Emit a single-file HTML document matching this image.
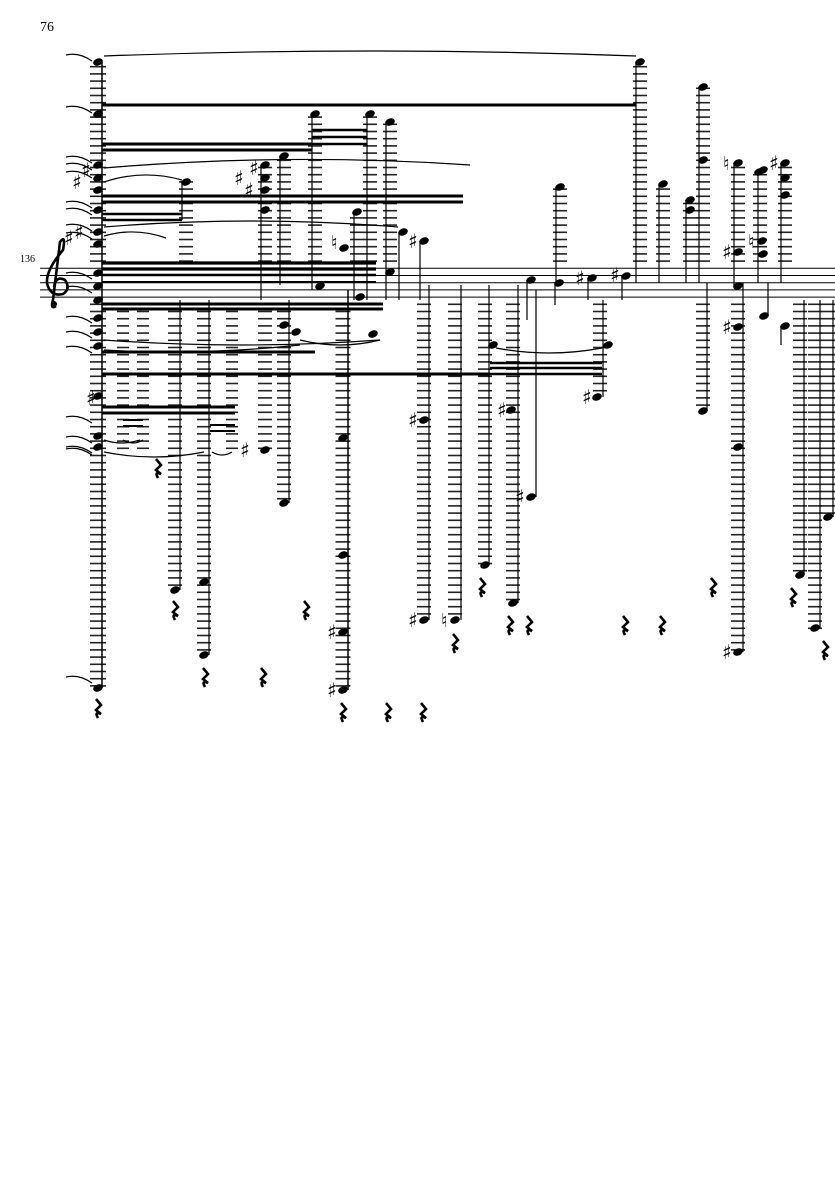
<!DOCTYPE html>
<html><head><meta charset="utf-8"><style>
html,body{margin:0;padding:0;background:#fff;width:835px;height:1181px;overflow:hidden}
svg{display:block}
</style></head><body>
<svg id="s" width="835" height="1181" viewBox="0 0 835 1181" xmlns="http://www.w3.org/2000/svg">
<text x="40" y="31" font-family="Liberation Serif, serif" font-size="14">76</text>
<text x="20" y="262" font-family="Liberation Serif, serif" font-size="10">136</text>
<g id="g" fill="none" stroke="#000"></g>
</svg>
<script>
var g=document.getElementById('g');var h='';
var T=268.3,B=297.1,S=7.2;
for(var i=0;i<5;i++){var y=T+i*S;h+='<line x1="40" y1="'+y+'" x2="835" y2="'+y+'" stroke-width="1"/>';}
function led(x,a,b,w){w=w||14;var c='#222';
 for(var y=T-S;y>=a-1;y-=S)if(y<=b+1)h+='<line x1="'+(x-w/2)+'" y1="'+y+'" x2="'+(x+w/2)+'" y2="'+y+'" stroke="'+c+'" stroke-width="1.6"/>';
 for(var y=B+S;y<=b+1;y+=S)if(y>=a-1)h+='<line x1="'+(x-w/2)+'" y1="'+y+'" x2="'+(x+w/2)+'" y2="'+y+'" stroke="'+c+'" stroke-width="1.6"/>';}
function n(x,y){h+='<ellipse cx="'+x+'" cy="'+y+'" rx="5" ry="3.5" transform="rotate(-22 '+x+' '+y+')" fill="#000" stroke="none"/>';}
function st(x,a,b,w){h+='<line x1="'+x+'" y1="'+a+'" x2="'+x+'" y2="'+b+'" stroke-width="'+(w||1.2)+'"/>';}
function bm(x1,y1,x2,y2,w){h+='<line x1="'+x1+'" y1="'+y1+'" x2="'+x2+'" y2="'+y2+'" stroke-width="'+(w||3)+'"/>';}
function sl(x1,y1,x2,y2,d){var mx=(x1+x2)/2,my=(y1+y2)/2+d;h+='<path d="M'+x1+' '+y1+' Q'+mx+' '+my+' '+x2+' '+y2+'" stroke-width="1.2"/>';}
function sh(x,y){h+='<text x="'+(x-6)+'" y="'+(y+7)+'" font-family="DejaVu Sans,sans-serif" font-size="20" fill="#000" stroke="none">♯</text>';}
function na(x,y){h+='<text x="'+(x-5)+'" y="'+(y+7)+'" font-family="DejaVu Sans,sans-serif" font-size="19" fill="#000" stroke="none">♮</text>';}
function r(x,y){h+='<path d="M'+(x-2)+' '+(y-9)+' L'+(x+3)+' '+(y-3)+' L'+(x-2)+' '+(y+2)+' L'+(x+3)+' '+(y+6)+' Q'+(x-4)+' '+(y+3)+' '+(x)+' '+(y+10)+'" stroke-width="2.6"/>';}
led(98,62,688,16);st(102,62,688,1.5);
[62,114,165,178,190,210,232,244,273,286,300,318,332,346,396,436,447,688].forEach(function(y){n(98,y)});
sh(87,170);sh(78,182);sh(70,238);sh(80,232);sh(92,398);
[58,110,160,167,175,205,212,228,236,276,290,320,335,350,420,440,450,452,680].forEach(function(y,i){sl(66,y-3,92,y+3,-6)});
[123,143,232].forEach(function(x){led(x,304,450,12)});
led(186,182,261);n(186,182);st(182,182,220);
led(175,304,590);n(175,590);st(180,300,590);
led(204,304,655);n(204,582);n(204,655);st(209,300,655);
led(265,165,261);[165,178,190,210].forEach(function(y){n(265,y)});st(261,165,300);sh(240,178);sh(250,190);sh(255,168);
led(265,304,450);n(265,450);sh(246,450);
led(284,156,261);n(284,156);st(280,156,285);
led(284,304,503);n(284,503);st(289,300,503);
led(315,114,261);n(315,114);st(312,114,290);
led(343,304,690,15);[438,555,632,690].forEach(function(y){n(343,y)});st(348,290,690,1.5);sh(333,632);sh(333,690);
led(357,212,261);n(357,212);st(354,212,300);
led(370,114,261);n(370,114);st(367,114,300);
led(390,122,261);n(390,122);st(386,122,300);
n(344,248);na(336,242);n(403,232);st(399,232,300);sh(414,241);n(424,241);st(420,241,300);
n(296,332);n(284,325);n(373,334);n(320,286);n(360,297);n(390,272);
led(424,304,620);n(424,420);n(424,620);st(429,285,620);sh(414,420);sh(414,620);
led(455,304,620);n(455,620);st(461,285,620);na(446,620);
led(485,304,565);n(485,565);st(489,285,565);
led(513,304,603);n(513,603);st(518,285,603);sh(503,410);n(511,410);
n(531,497);st(536,290,497);sh(521,497);n(531,280);st(527,280,320);
n(559,283);st(555,283,305);n(592,278);st(588,278,300);sh(581,278);n(626,276);st(622,276,300);sh(616,275);
led(560,187,261);n(560,187);st(556,187,283);
led(600,304,395);n(493,345);n(608,345);n(597,397);sh(588,397);st(603,300,397);
led(640,62,261);n(640,62);st(636,62,283);
led(663,184,261);n(663,184);st(659,184,283);
led(690,200,261);n(690,200);n(690,210);st(686,200,283);
led(703,87,261);n(703,87);n(703,160);st(699,87,283);
led(703,304,411);n(703,411);st(707,283,411);
led(738,163,261);n(738,163);n(738,252);n(738,286);sh(728,252);na(728,163);st(734,163,286);
led(738,304,652,14);n(738,327);n(738,652);n(738,447);sh(728,327);sh(728,652);st(743,283,652);
led(760,170,261);n(759,172);n(763,170);n(762,241);n(763,254);na(753,241);st(758,170,283);
n(764,316);st(768,283,316);
led(785,163,261);n(785,163);n(785,178);n(785,195);sh(775,163);st(781,163,283);
n(785,326);st(781,326,345);
led(800,304,575);n(800,575);st(804,300,575);
led(815,304,628);n(815,628);st(820,300,628);
led(828,304,517);n(828,517);st(833,300,517);
bm(102,105,636,105,3);bm(102,144,312,144,3);bm(102,150,312,150,3);
[130,137,144].forEach(function(y){bm(312,y,367,y,2.5)});
bm(102,196,463,196,3);bm(102,202,463,202,3);
bm(102,214,182,214,2.5);bm(102,220,182,220,2.5);
bm(102,263,376,263,3.2);bm(102,269,376,269,3.2);bm(102,275,376,275,2.5);bm(102,282,376,282,2);
bm(102,304,383,304,3);bm(102,309,383,309,3);
bm(102,352,315,352,3);bm(102,374,490,374,3);
[363,368,374].forEach(function(y){bm(490,y,602,y,2.5)});
bm(102,407,235,407,3);bm(102,413,235,413,3);bm(123,420,143,420,2);bm(123,426,143,426,2);bm(210,425,235,425,2);bm(210,431,235,431,2);
sl(104,56,636,56,-10);sl(104,168,470,165,-14);sl(104,182,182,180,-12);sl(104,236,166,238,-10);sl(104,227,398,227,-12);
sl(104,350,300,345,8);sl(104,340,380,340,10);sl(496,348,602,348,10);sl(300,340,380,340,10);
sl(104,440,140,440,6);sl(123,440,143,440,6);sl(104,452,204,452,10);sl(212,452,232,452,6);
[[158,468],[175,610],[205,677],[263,677],[306,610],[98,708],[343,712],[388,712],[423,712],[455,643],[482,587],[510,625],[529,625],[625,625],[662,625],[713,587],[793,597],[825,650]].forEach(function(p){r(p[0],p[1])});
h+='<path d="M56 306 Q50 310 53 300 L60 242 Q66 234 63 250 Q46 270 47 283 Q50 297 63 294 Q71 289 65 280 Q56 275 54 287" stroke-width="2.6"/>';
h+='<circle cx="54" cy="304" r="2.5" fill="#000"/>';
g.innerHTML=h;
</script>
</body></html>
